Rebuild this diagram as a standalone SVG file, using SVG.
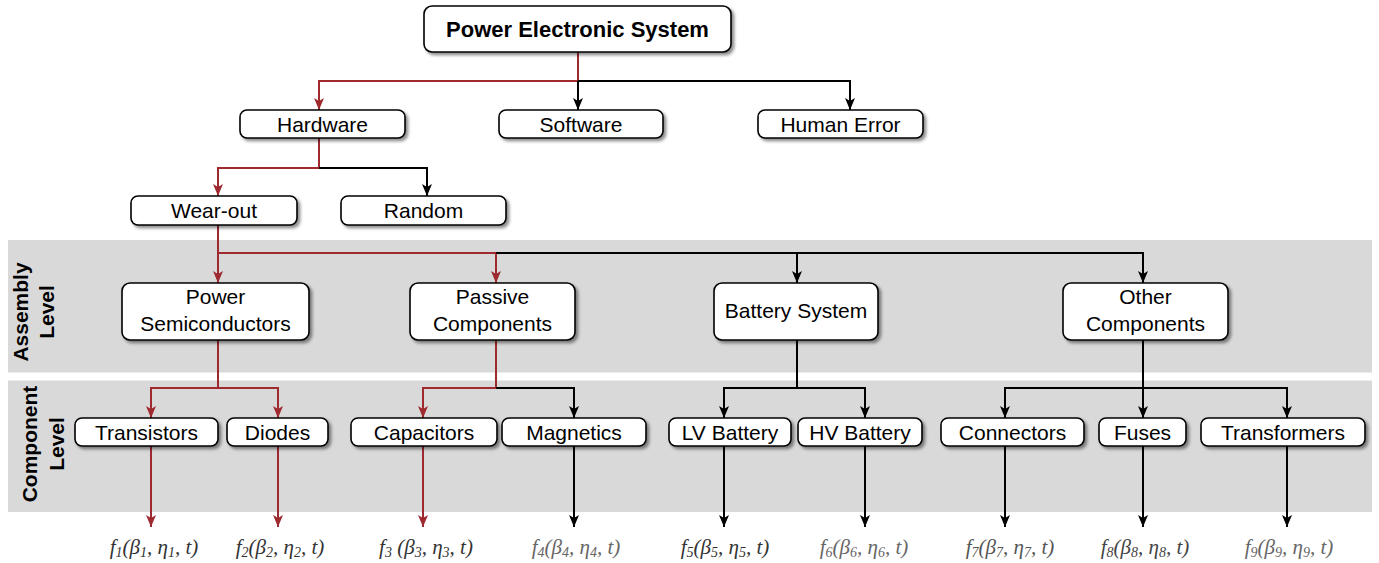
<svg xmlns="http://www.w3.org/2000/svg" width="1379" height="563" viewBox="0 0 1379 563">
<defs>
<filter id="sh" x="-10%" y="-20%" width="130%" height="160%">
<feDropShadow dx="2.5" dy="2.5" stdDeviation="1.5" flood-color="#000" flood-opacity="0.45"/>
</filter>
<marker id="ar" markerUnits="userSpaceOnUse" markerWidth="10" markerHeight="12" refX="5" refY="12" orient="0" viewBox="0 0 10 12">
<path d="M0,0 L5,3 L10,0 L5,12 Z" fill="#9e2a30"/>
</marker>
<marker id="ab" markerUnits="userSpaceOnUse" markerWidth="10" markerHeight="12" refX="5" refY="12" orient="0" viewBox="0 0 10 12">
<path d="M0,0 L5,3 L10,0 L5,12 Z" fill="#000"/>
</marker>
</defs>
<style>
.band{fill:#d9d9d9}
.box{fill:#fff;stroke:#000;stroke-width:1.6;filter:url(#sh)}
.t{font-family:"Liberation Sans",Arial,sans-serif;font-size:21px;text-anchor:middle;fill:#000}
.tb{font-family:"Liberation Sans",Arial,sans-serif;font-size:22px;font-weight:bold;text-anchor:middle;fill:#000}
.side{font-family:"Liberation Sans",Arial,sans-serif;font-size:21px;font-weight:bold;text-anchor:middle;fill:#000}
.r{fill:none;stroke:#9e2a30;stroke-width:2;marker-end:url(#ar)}
.rn{fill:none;stroke:#9e2a30;stroke-width:2}
.k{fill:none;stroke:#000;stroke-width:2;marker-end:url(#ab)}
.kn{fill:none;stroke:#000;stroke-width:2}
.f{font-family:"Liberation Serif","Times New Roman",serif;font-style:italic;font-size:21px;text-anchor:middle}
.s{font-size:14px}
</style>
<g id="bands">
<rect class="band" x="8" y="240" width="1364" height="132.5"/>
<rect class="band" x="8" y="380.5" width="1364" height="131.5"/>
<text class="side" transform="translate(28,312) rotate(-90)">Assembly</text>
<text class="side" transform="translate(54,312) rotate(-90)">Level</text>
<text class="side" transform="translate(37,444) rotate(-90)">Component</text>
<text class="side" transform="translate(64,444) rotate(-90)">Level</text>
</g>
<g id="connectors">
<path class="rn" d="M578,52 V81"/>
<path class="r" d="M578,81 H319 V110"/>
<path class="k" d="M578,81 V110"/>
<path class="k" d="M578,81 H850 V110"/>
<path class="r" d="M319,138 V168 H218 V196"/>
<path class="k" d="M319,168 H427 V196"/>
<path class="r" d="M218,225 V283"/>
<path class="r" d="M218,253 H496 V283"/>
<path class="k" d="M496,253 H1143 V283"/>
<path class="k" d="M797,253 V283"/>
<path class="r" d="M218,340 V388 H151 V418"/>
<path class="r" d="M218,388 H278 V418"/>
<path class="r" d="M496,340 V388 H423 V418"/>
<path class="k" d="M496,388 H574 V418"/>
<path class="k" d="M797,340 V388 H724 V418"/>
<path class="k" d="M797,388 H865 V418"/>
<path class="k" d="M1143,340 V418"/>
<path class="k" d="M1143,388 H1005 V418"/>
<path class="k" d="M1143,388 H1287 V418"/>
<path class="r" d="M151,446 V527"/>
<path class="r" d="M278,446 V527"/>
<path class="r" d="M423,446 V527"/>
<path class="k" d="M574,446 V527"/>
<path class="k" d="M724,446 V527"/>
<path class="k" d="M865,446 V527"/>
<path class="k" d="M1005,446 V527"/>
<path class="k" d="M1143,446 V527"/>
<path class="k" d="M1287,446 V527"/>
</g>
<g id="n-pes"><rect class="box" x="424" y="6" width="307" height="46" rx="8"/><text class="tb" x="577.5" y="37">Power Electronic System</text></g>
<g id="n-hardware"><rect class="box" x="240" y="110" width="165" height="28" rx="7"/><text class="t" x="322.5" y="131.5">Hardware</text></g>
<g id="n-software"><rect class="box" x="499" y="110" width="164" height="28" rx="7"/><text class="t" x="581" y="131.5">Software</text></g>
<g id="n-human"><rect class="box" x="758" y="110" width="165" height="28" rx="7"/><text class="t" x="840.5" y="131.5">Human Error</text></g>
<g id="n-wearout"><rect class="box" x="131" y="196" width="166" height="29" rx="7"/><text class="t" x="214" y="218">Wear-out</text></g>
<g id="n-random"><rect class="box" x="341" y="196" width="165" height="29" rx="7"/><text class="t" x="423.5" y="218">Random</text></g>
<g id="n-powersemi"><rect class="box" x="122" y="283" width="187" height="57" rx="8"/><text class="t" x="215.5" y="304">Power</text><text class="t" x="215.5" y="331">Semiconductors</text></g>
<g id="n-passive"><rect class="box" x="410" y="283" width="165" height="57" rx="8"/><text class="t" x="492.5" y="304">Passive</text><text class="t" x="492.5" y="331">Components</text></g>
<g id="n-battery"><rect class="box" x="714" y="283" width="164" height="57" rx="8"/><text class="t" x="796" y="318">Battery System</text></g>
<g id="n-other"><rect class="box" x="1063" y="283" width="165" height="57" rx="8"/><text class="t" x="1145.5" y="304">Other</text><text class="t" x="1145.5" y="331">Components</text></g>
<g id="n-transistors"><rect class="box" x="75" y="418" width="143" height="28" rx="7"/><text class="t" x="146.5" y="439.5">Transistors</text></g>
<g id="n-diodes"><rect class="box" x="227" y="418" width="101" height="28" rx="7"/><text class="t" x="277.5" y="439.5">Diodes</text></g>
<g id="n-capacitors"><rect class="box" x="351" y="418" width="146" height="28" rx="7"/><text class="t" x="424" y="439.5">Capacitors</text></g>
<g id="n-magnetics"><rect class="box" x="502" y="418" width="144" height="28" rx="7"/><text class="t" x="574" y="439.5">Magnetics</text></g>
<g id="n-lv"><rect class="box" x="669" y="418" width="122" height="28" rx="7"/><text class="t" x="730" y="439.5">LV Battery</text></g>
<g id="n-hv"><rect class="box" x="798" y="418" width="124" height="28" rx="7"/><text class="t" x="860" y="439.5">HV Battery</text></g>
<g id="n-connectors"><rect class="box" x="941" y="418" width="143" height="28" rx="7"/><text class="t" x="1012.5" y="439.5">Connectors</text></g>
<g id="n-fuses"><rect class="box" x="1099" y="418" width="87" height="28" rx="7"/><text class="t" x="1142.5" y="439.5">Fuses</text></g>
<g id="n-transformers"><rect class="box" x="1201" y="418" width="164" height="28" rx="7"/><text class="t" x="1283" y="439.5">Transformers</text></g>
<g id="labels">
<text class="f" x="154" y="554" fill="#333">f<tspan class="s" dy="3">1</tspan><tspan dy="-3">(β</tspan><tspan class="s" dy="3">1</tspan><tspan dy="-3">, η</tspan><tspan class="s" dy="3">1</tspan><tspan dy="-3">, t)</tspan></text>
<text class="f" x="280" y="554" fill="#333">f<tspan class="s" dy="3">2</tspan><tspan dy="-3">(β</tspan><tspan class="s" dy="3">2</tspan><tspan dy="-3">, η</tspan><tspan class="s" dy="3">2</tspan><tspan dy="-3">, t)</tspan></text>
<text class="f" x="426" y="554" fill="#333">f<tspan class="s" dy="3">3</tspan><tspan dy="-3"> (β</tspan><tspan class="s" dy="3">3</tspan><tspan dy="-3">, η</tspan><tspan class="s" dy="3">3</tspan><tspan dy="-3">, t)</tspan></text>
<text class="f" x="576" y="554" fill="#666">f<tspan class="s" dy="3">4</tspan><tspan dy="-3">(β</tspan><tspan class="s" dy="3">4</tspan><tspan dy="-3">, η</tspan><tspan class="s" dy="3">4</tspan><tspan dy="-3">, t)</tspan></text>
<text class="f" x="725" y="554" fill="#333">f<tspan class="s" dy="3">5</tspan><tspan dy="-3">(β</tspan><tspan class="s" dy="3">5</tspan><tspan dy="-3">, η</tspan><tspan class="s" dy="3">5</tspan><tspan dy="-3">, t)</tspan></text>
<text class="f" x="864" y="554" fill="#666">f<tspan class="s" dy="3">6</tspan><tspan dy="-3">(β</tspan><tspan class="s" dy="3">6</tspan><tspan dy="-3">, η</tspan><tspan class="s" dy="3">6</tspan><tspan dy="-3">, t)</tspan></text>
<text class="f" x="1010" y="554" fill="#555">f<tspan class="s" dy="3">7</tspan><tspan dy="-3">(β</tspan><tspan class="s" dy="3">7</tspan><tspan dy="-3">, η</tspan><tspan class="s" dy="3">7</tspan><tspan dy="-3">, t)</tspan></text>
<text class="f" x="1145" y="554" fill="#444">f<tspan class="s" dy="3">8</tspan><tspan dy="-3">(β</tspan><tspan class="s" dy="3">8</tspan><tspan dy="-3">, η</tspan><tspan class="s" dy="3">8</tspan><tspan dy="-3">, t)</tspan></text>
<text class="f" x="1289" y="554" fill="#666">f<tspan class="s" dy="3">9</tspan><tspan dy="-3">(β</tspan><tspan class="s" dy="3">9</tspan><tspan dy="-3">, η</tspan><tspan class="s" dy="3">9</tspan><tspan dy="-3">, t)</tspan></text>
</g>
</svg>
